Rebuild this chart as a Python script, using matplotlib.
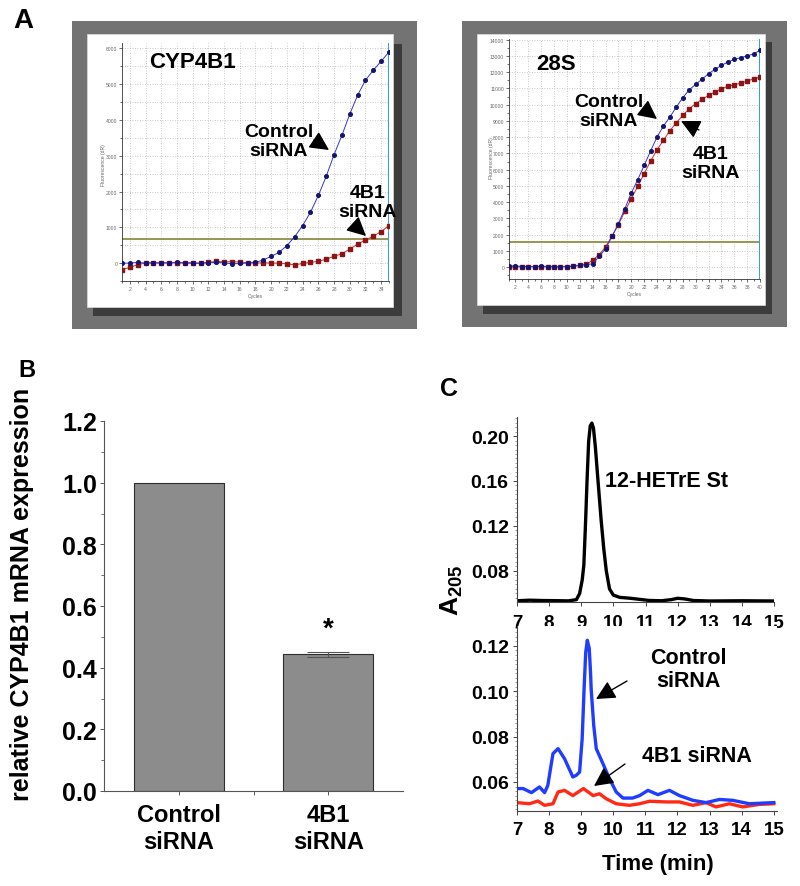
import matplotlib
matplotlib.use('Agg')
import matplotlib.pyplot as plt
from matplotlib.patches import Rectangle
from matplotlib.ticker import MultipleLocator

plt.rcParams['font.family'] = ['Liberation Sans', 'DejaVu Sans']
plt.rcParams['mathtext.fontset'] = 'custom'
plt.rcParams['mathtext.rm'] = 'Liberation Sans'
plt.rcParams['mathtext.bf'] = 'Liberation Sans:bold'

# ---------------- data ----------------
cycles_cyp = list(range(1, 36))
cyp_control = [0, 0, 20, 0, 10, 0, 10, 20, 10, 10, 0, 10, 20, 10, -20, -10, 0, 20,
               90, 190, 300, 490, 740, 1050, 1420, 1890, 2420, 3030, 3570, 4160,
               4690, 5110, 5390, 5640, 5900]
cyp_4b1 = [-180, -120, -40, 0, 10, 0, 10, 0, 0, -10, -10, 20, 50, 30, 40, 30, 10, 0,
           10, 0, 0, -20, -50, -10, 20, 50, 110, 190, 260, 390, 530, 650, 750, 880, 1050]
cyp_threshold = 670

cycles_28s = list(range(1, 41))
s28_control = [50, 60, 30, 30, 30, 40, 30, 20, 20, 30, 60, 100, 140, 200, 650, 1130,
               1880, 2670, 3590, 4560, 5380, 6260, 7150, 8010, 8690, 9240, 9860, 10430,
               10920, 11250, 11580, 11910, 12180, 12420, 12630, 12790, 12900, 13000,
               13140, 13350]
s28_4b1 = [20, 10, 10, 10, 20, 10, 10, 10, 10, 20, 40, 100, 170, 410, 760, 1230,
           1900, 2610, 3430, 4210, 4970, 5750, 6530, 7230, 7800, 8400, 8890, 9340,
           9750, 10060, 10330, 10580, 10780, 10990, 11130, 11230, 11330, 11450,
           11600, 11700]
s28_threshold = 1540

bar_categories = ['Control\nsiRNA', '4B1\nsiRNA']
bar_values = [1.0, 0.443]
bar_errors = [0.0, 0.007]

std_time = [7.0, 7.4, 7.8, 8.2, 8.6, 8.85, 8.95, 9.03, 9.08, 9.13, 9.18, 9.23, 9.28,
            9.33, 9.38, 9.44, 9.5, 9.55, 9.62, 9.7, 9.78, 9.88, 10.0, 10.2, 10.5,
            10.8, 11.1, 11.5, 11.8, 12.0, 12.2, 12.5, 13.0, 14.0, 15.0]
std_abs = [0.0535, 0.0540, 0.0537, 0.0536, 0.0534, 0.0545, 0.060, 0.072, 0.085, 0.12,
           0.16, 0.195, 0.209, 0.2115, 0.207, 0.19, 0.168, 0.15, 0.125, 0.10, 0.08,
           0.064, 0.0585, 0.0565, 0.0558, 0.0548, 0.0538, 0.0535, 0.0545, 0.0557,
           0.0552, 0.0537, 0.0533, 0.0535, 0.0533]

ctrl_time = [7.0, 7.19, 7.45, 7.7, 7.86, 7.96, 8.12, 8.28, 8.48, 8.74, 8.85, 8.95,
             9.03, 9.09, 9.14, 9.19, 9.25, 9.29, 9.31, 9.39, 9.47, 9.68, 9.88, 10.09,
             10.3, 10.6, 10.82, 11.08, 11.39, 11.75, 12.06, 12.48, 12.89, 13.31,
             13.72, 14.24, 15.0]
ctrl_abs = [0.0571, 0.0571, 0.0553, 0.0578, 0.0553, 0.0585, 0.0725, 0.0747, 0.0703,
            0.0622, 0.063, 0.0644, 0.079, 0.101, 0.117, 0.1225, 0.119, 0.1085, 0.1012,
            0.085, 0.0747, 0.068, 0.0615, 0.0556, 0.0529, 0.0529, 0.054, 0.0563,
            0.0544, 0.0563, 0.054, 0.0519, 0.0509, 0.0523, 0.0519, 0.0504, 0.0509]

kd_time = [7.0, 7.39, 7.65, 7.86, 8.12, 8.28, 8.48, 8.74, 9.07, 9.37, 9.57, 9.78,
           10.09, 10.5, 10.82, 11.13, 11.65, 12.06, 12.48, 12.89, 13.2, 13.62, 14.03,
           14.55, 15.0]
kd_abs = [0.0509, 0.0504, 0.0516, 0.0497, 0.0504, 0.0556, 0.0563, 0.054, 0.0571,
          0.054, 0.0548, 0.0526, 0.0504, 0.0497, 0.0504, 0.0515, 0.0512, 0.0512,
          0.0497, 0.0509, 0.0490, 0.0504, 0.0490, 0.0501, 0.0504]

# ---------------- figure ----------------
W, H = 800, 887
fig = plt.figure(figsize=(W / 100, H / 100), dpi=100)


def box(l, t, r, b):
    return [l / W, 1 - b / H, (r - l) / W, (b - t) / H]


bg = fig.add_axes([0, 0, 1, 1], zorder=-10)
bg.set_xlim(0, W)
bg.set_ylim(H, 0)
bg.axis('off')

# frames for panel A
for (l, t, r, b) in [(72, 22, 417, 330), (462, 22, 787, 328)]:
    bg.add_patch(Rectangle((l, t), r - l, b - t, color='#737373', lw=0))
for (l, t, r, b) in [(93, 45, 402, 317), (483, 43, 772, 315)]:
    bg.add_patch(Rectangle((l, t), r - l, b - t, color='#3c3c3c', lw=0))
for (l, t, r, b) in [(87, 35, 393, 308), (477, 35, 765, 306)]:
    bg.add_patch(Rectangle((l, t), r - l, b - t, facecolor='white', edgecolor='#dddddd', lw=0.5))


def qpcr(rect, cyc, ctrl, kd, thr, ylim, ymaj, ymin, xmax, grid_minor):
    ax = fig.add_axes(rect)
    ax.set_facecolor('none')
    ax.set_xlim(1, xmax)
    ax.set_ylim(*ylim)
    ax.xaxis.set_minor_locator(MultipleLocator(1))
    ax.yaxis.set_major_locator(MultipleLocator(ymaj))
    ax.yaxis.set_minor_locator(MultipleLocator(ymin))
    ax.set_xticks([c for c in range(2, xmax + 1, 2)])
    ax.grid(True, which='major', color='#b8b8b8', ls=(0, (1, 2)), lw=0.6)
    if grid_minor:
        ax.grid(True, which='minor', axis='y', color='#b8b8b8', ls=(0, (1, 2)), lw=0.6)
    for s in ['top', 'right']:
        ax.spines[s].set_visible(False)
    for s in ['left', 'bottom']:
        ax.spines[s].set_color('#333333')
        ax.spines[s].set_linewidth(0.6)
    ax.tick_params(which='both', labelsize=3.6, labelcolor='#666666', length=2,
                   width=0.5, pad=1.5, color='#333333')
    ax.tick_params(which='minor', length=1.2)
    ax.axhline(thr, color='#8f8f45', lw=1.3, zorder=2)
    ax.axvline(xmax, color='#3d9be0', lw=1.5, zorder=2)
    ax.plot(cyc, kd, color='#d03030', lw=0.7, marker='s', ms=2.6,
            mfc='#8b1414', mec='#8b1414', zorder=3)
    ax.plot(cyc, ctrl, color='#3535d0', lw=0.7, marker='o', ms=2.6,
            mfc='#14146e', mec='#14146e', zorder=4)
    return ax


axA1 = qpcr(box(122, 44, 389, 282), cycles_cyp, cyp_control, cyp_4b1, cyp_threshold,
            (-500, 6150), 1000, 500, 35, True)
axA2 = qpcr(box(509, 40, 760, 280), cycles_28s, s28_control, s28_4b1, s28_threshold,
            (-740, 14050), 1000, 500, 40, False)

# ---------------- panel B ----------------
axB = fig.add_axes(box(104, 422, 403, 792))
xpos = list(range(len(bar_categories)))
axB.bar(xpos, bar_values, width=0.6, color='#8c8c8c', edgecolor='#2e2e2e', lw=0.8, zorder=2)
axB.errorbar(xpos[1:], bar_values[1:], yerr=bar_errors[1:], fmt='none',
             ecolor='#555555', elinewidth=0.8, capsize=15, capthick=0.8, zorder=3)
axB.set_xlim(-0.5, 1.5)
axB.set_ylim(0, 1.2)
axB.yaxis.set_major_locator(MultipleLocator(0.2))
axB.yaxis.set_minor_locator(MultipleLocator(0.1))
axB.set_xticks([0, 0.5, 1])
axB.set_xticklabels([bar_categories[0], '', bar_categories[1]])
axB.yaxis.set_major_formatter(matplotlib.ticker.FormatStrFormatter('%.1f'))
for s in ['top', 'right']:
    axB.spines[s].set_visible(False)
for s in ['left', 'bottom']:
    axB.spines[s].set_color('#555555')
    axB.spines[s].set_linewidth(0.8)
axB.tick_params(axis='y', labelsize=18, length=3, width=0.7, pad=2, color='#555555')
axB.tick_params(axis='y', which='minor', length=2, width=0.6, color='#555555')
axB.tick_params(axis='x', labelsize=17, length=3, width=0.7, pad=6, color='#555555')
for lab in axB.get_xticklabels() + axB.get_yticklabels():
    lab.set_fontweight('bold')
axB.text(1, 0.525, '*', ha='center', va='center', fontsize=20, fontweight='bold')

# ---------------- panel C ----------------
axC1 = fig.add_axes(box(517, 418, 774, 603))
axC1.plot(std_time, std_abs, color='black', lw=2.4, solid_joinstyle='round')
axC1.set_xlim(7, 15)
axC1.set_ylim(0.0524, 0.2169)
axC1.set_yticks([0.08, 0.12, 0.16, 0.20])
axC1.yaxis.set_minor_locator(MultipleLocator(0.004))

axC2 = fig.add_axes(box(517, 627, 777, 812))
axC2.plot(kd_time, kd_abs, color='#ff2a14', lw=2.4, solid_joinstyle='round')
axC2.plot(ctrl_time, ctrl_abs, color='#1f3cff', lw=2.4, solid_joinstyle='round')
axC2.set_xlim(7, 15.1)
axC2.set_ylim(0.0472, 0.1288)
axC2.set_yticks([0.06, 0.08, 0.10, 0.12])
axC2.yaxis.set_minor_locator(MultipleLocator(0.002))

for ax in (axC1, axC2):
    ax.set_xticks(range(7, 16))
    ax.yaxis.set_major_formatter(matplotlib.ticker.FormatStrFormatter('%.2f'))
    for s in ['top', 'right']:
        ax.spines[s].set_visible(False)
    for s in ['left', 'bottom']:
        ax.spines[s].set_color('#444444')
        ax.spines[s].set_linewidth(0.8)
    ax.tick_params(axis='y', labelsize=14, length=3, width=0.7, pad=3, color='#444444')
    ax.tick_params(axis='y', which='minor', length=1.8, width=0.5, color='#777777')
    ax.tick_params(axis='x', labelsize=13.5, length=3, width=0.7, pad=4, color='#444444')
    for lab in ax.get_xticklabels() + ax.get_yticklabels():
        lab.set_fontweight('bold')
axC1.tick_params(axis='x', pad=6)

# ---------------- overlay texts ----------------
ov = fig.add_axes([0, 0, 1, 1], zorder=20)
ov.set_xlim(0, W)
ov.set_ylim(H, 0)
ov.axis('off')
ov.patch.set_alpha(0)

ov.text(23, 21, 'A', fontsize=20, fontweight='bold', ha='center', va='center')
ov.text(27, 371, 'B', fontsize=17, fontweight='bold', ha='center', va='center')
ov.text(449, 389, 'C', fontsize=18, fontweight='bold', ha='center', va='center')

# panel A texts
ov.text(149, 63, 'CYP4B1', fontsize=16, fontweight='bold', ha='left', va='center')
ov.text(279, 142, 'Control\nsiRNA', fontsize=14, fontweight='bold', ha='center',
        va='center', linespacing=1.2)
ov.text(368, 203, '4B1\nsiRNA', fontsize=14, fontweight='bold', ha='center',
        va='center', linespacing=1.2)
ov.text(536, 64, '28S', fontsize=16, fontweight='bold', ha='left', va='center')
ov.text(609, 112, 'Control\nsiRNA', fontsize=14, fontweight='bold', ha='center',
        va='center', linespacing=1.2)
ov.text(711, 164, '4B1\nsiRNA', fontsize=14, fontweight='bold', ha='center',
        va='center', linespacing=1.2)
ov.text(104, 165, 'Fluorescence (dR)', fontsize=3.6, color='#666666', rotation=90,
        ha='center', va='center')
ov.text(255, 297, 'Cycles', fontsize=3.6, color='#666666', ha='center', va='center')
ov.text(491, 158, 'Fluorescence (dR)', fontsize=3.6, color='#666666', rotation=90,
        ha='center', va='center')
ov.text(634, 295, 'Cycles', fontsize=3.6, color='#666666', ha='center', va='center')


def arrow(tip, tail, hl=0.9, hw=0.45, ms=13, lw=1.0):
    ov.annotate('', xy=tip, xytext=tail,
                arrowprops=dict(arrowstyle='-|>,head_length=%g,head_width=%g' % (hl, hw),
                                color='black', lw=lw, mutation_scale=ms,
                                shrinkA=0, shrinkB=0))


arrow((329, 151), (314, 141))
arrow((366, 237), (354, 226))
arrow((657, 120), (644, 110))
arrow((681, 122), (699, 131))
arrow((596, 700), (627, 682))
arrow((594, 787), (625, 765))

# panel B ylabel
ov.text(22, 594, 'relative CYP4B1 mRNA expression', fontsize=18, fontweight='bold',
        rotation=90, ha='center', va='center')

# panel C texts
ov.text(605, 482, '12-HETrE St', fontsize=15.5, fontweight='bold', ha='left', va='center')
ov.text(688, 670, 'Control\nsiRNA', fontsize=15.5, fontweight='bold', ha='center',
        va='center', linespacing=1.1)
ov.text(697, 757, '4B1 siRNA', fontsize=15.5, fontweight='bold', ha='center', va='center')
ov.text(658, 865, 'Time (min)', fontsize=16, fontweight='bold', ha='center', va='center')
ov.text(452, 590, r'$\mathbf{A}_{\mathbf{205}}$', fontsize=19, rotation=90,
        ha='center', va='center')

fig.savefig('out.png', dpi=100)
